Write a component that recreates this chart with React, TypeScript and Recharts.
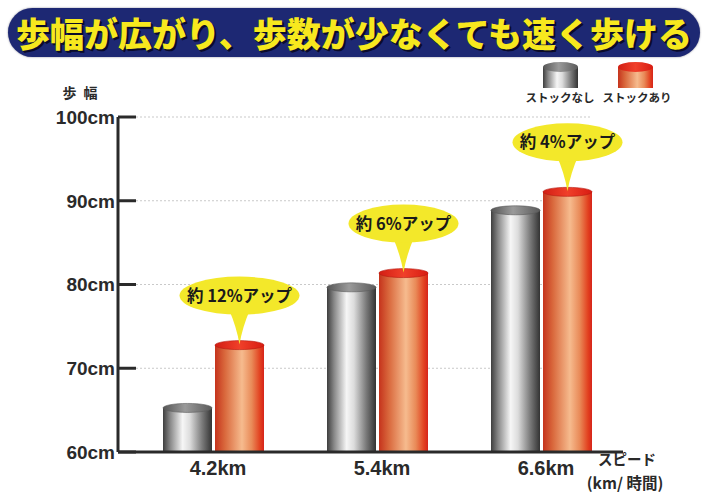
import React from 'react';
import { BarChart, Bar, XAxis, YAxis, CartesianGrid, Legend, LabelList } from 'recharts';

const title = '歩幅が広がり、歩数が少なくても速く歩ける';
const categories = ['4.2km', '5.4km', '6.6km'];
const withoutStock = [65.8, 80.2, 89.4];
const withStock = [73.3, 81.9, 91.6];
const callouts = ['約 12%アップ', '約 6%アップ', '約 4%アップ'];
const yTicks = [60, 70, 80, 90, 100];
const seriesNames = ['ストックなし', 'ストックあり'];
const yAxisTitle = '歩 幅';
const xAxisTitle1 = 'スピード';
const xAxisTitle2 = '(km/ 時間)';

const data = categories.map((c, i) => ({
  name: c,
  without: withoutStock[i],
  with: withStock[i],
  callout: callouts[i],
}));

const JP = '"Noto Sans CJK JP", "Noto Sans", sans-serif';
const LAT = '"Liberation Sans", Arial, Helvetica, sans-serif';
const INK = '#2a2a2a';

const Cylinder = (props: any) => {
  const { x, y, width, height, kind } = props;
  if (width == null || height == null || isNaN(y)) return null;
  const ry = 4.5;
  const cx = x + width / 2;
  return (
    <g>
      <rect x={x} y={y + ry} width={width} height={Math.max(0, height - ry)} fill={`url(#${kind}Body)`} />
      <ellipse
        cx={cx}
        cy={y + ry}
        rx={width / 2}
        ry={ry}
        fill={`url(#${kind}Top)`}
        stroke={kind === 'gray' ? '#5a5a5a' : '#b5170f'}
        strokeWidth={0.6}
      />
    </g>
  );
};

const Callout = (props: any) => {
  const vb = props.viewBox && props.viewBox.width != null ? props.viewBox : props;
  const { x, y, width } = vb;
  const value = String(props.value ?? '');
  if (x == null || y == null) return null;
  const cx = x + width / 2;
  const cy = y - 45;
  const rx = 20 + value.length * 5;
  const ry = 19;
  const tipY = y + 4;
  const fill = '#f3e82a';
  return (
    <g>
      <path
        d={`M${cx - 11},${cy + ry - 6} Q${cx - 3},${cy + ry + 12} ${cx},${tipY} Q${cx + 3},${cy + ry + 12} ${cx + 11},${cy + ry - 6} Z`}
        fill={fill}
      />
      <ellipse cx={cx} cy={cy} rx={rx} ry={ry} fill={fill} />
      <text
        x={cx}
        y={cy}
        dy="0.36em"
        textAnchor="middle"
        fontSize={16.5}
        fontWeight={700}
        fill="#1a1a1a"
        fontFamily={JP}
      >
        {value}
      </text>
    </g>
  );
};

const YTick = (props: any) => {
  const { x, y, payload } = props;
  return (
    <g>
      <line x1={x + 3} x2={x + 21} y1={y} y2={y} stroke={INK} strokeWidth={3} />
      <text x={x} y={y} dy="0.36em" textAnchor="end" fontSize={19} fontWeight={700} fill={INK} fontFamily={LAT}>
        {`${payload.value}cm`}
      </text>
    </g>
  );
};

const LegendCyl = ({ x, kind }: { x: number; kind: string }) => (
  <g>
    <rect x={x} y={7} width={35} height={21} fill={`url(#${kind}Body)`} />
    <ellipse cx={x + 17.5} cy={7} rx={17.5} ry={5} fill={`url(#${kind}Top)`} />
  </g>
);

const LegendContent = () => (
  <svg width={170} height={50} style={{ display: 'block' }}>
    <LegendCyl x={23} kind="gray" />
    <LegendCyl x={98} kind="orange" />
    <text x={40} y={38} dy="0.36em" textAnchor="middle" fontSize={11.5} fontWeight={700} fill={INK} fontFamily={JP}>
      {seriesNames[0]}
    </text>
    <text x={117} y={38} dy="0.36em" textAnchor="middle" fontSize={11.5} fontWeight={700} fill={INK} fontFamily={JP}>
      {seriesNames[1]}
    </text>
  </svg>
);

export default function App() {
  return (
    <div style={{ position: 'absolute', left: 0, top: 0, width: 707, height: 503, background: '#ffffff' }}>
      <BarChart
        width={707}
        height={503}
        data={data}
        margin={{ top: 117, right: 84, bottom: 21, left: 0 }}
        barSize={49}
        barGap={3}
      >
        <defs>
          <linearGradient id="grayBody" x1="0" y1="0" x2="1" y2="0">
            <stop offset="0%" stopColor="#3e3e3e" />
            <stop offset="15%" stopColor="#8a8a8a" />
            <stop offset="40%" stopColor="#f6f6f6" />
            <stop offset="55%" stopColor="#dcdcdc" />
            <stop offset="80%" stopColor="#7a7a7a" />
            <stop offset="100%" stopColor="#333333" />
          </linearGradient>
          <linearGradient id="grayTop" x1="0" y1="0" x2="1" y2="0">
            <stop offset="0%" stopColor="#555555" />
            <stop offset="45%" stopColor="#9a9a9a" />
            <stop offset="100%" stopColor="#5a5a5a" />
          </linearGradient>
          <linearGradient id="orangeBody" x1="0" y1="0" x2="1" y2="0">
            <stop offset="0%" stopColor="#c5331c" />
            <stop offset="20%" stopColor="#d9683c" />
            <stop offset="55%" stopColor="#f6bb8e" />
            <stop offset="75%" stopColor="#e98a58" />
            <stop offset="92%" stopColor="#e2401f" />
            <stop offset="100%" stopColor="#d6241a" />
          </linearGradient>
          <linearGradient id="orangeTop" x1="0" y1="0" x2="1" y2="0">
            <stop offset="0%" stopColor="#d21e14" />
            <stop offset="50%" stopColor="#f0402a" />
            <stop offset="100%" stopColor="#d81c12" />
          </linearGradient>
        </defs>
        <CartesianGrid vertical={false} stroke="#c9c9c9" strokeDasharray="2 2" x={136} width={454} />
        <XAxis
          dataKey="name"
          axisLine={{ stroke: INK, strokeWidth: 3 }}
          tickLine={false}
          tickSize={0}
          tickMargin={9}
          height={30}
          padding={{ left: 13, right: 0 }}
          tick={{ fontSize: 20, fontWeight: 700, fill: INK, fontFamily: LAT, dx: 5 }}
          interval={0}
        />
        <YAxis
          width={118}
          domain={[60, 100]}
          ticks={yTicks}
          allowDataOverflow
          axisLine={{ stroke: INK, strokeWidth: 3 }}
          tickLine={false}
          tickSize={0}
          tickMargin={3}
          tick={<YTick />}
          interval={0}
        />
        <Legend
          layout="horizontal"
          verticalAlign="middle"
          align="center"
          content={<LegendContent />}
          wrapperStyle={{ top: 60, left: 520, width: 170, height: 50 }}
        />
        <Bar dataKey="without" name={seriesNames[0]} isAnimationActive={false} shape={(p: any) => <Cylinder {...p} kind="gray" />} />
        <Bar dataKey="with" name={seriesNames[1]} isAnimationActive={false} shape={(p: any) => <Cylinder {...p} kind="orange" />}>
          <LabelList dataKey="callout" content={(p: any) => <Callout {...p} />} />
        </Bar>
        <text x={81} y={93} dy="0.36em" textAnchor="middle" fontSize={14} fontWeight={700} fill={INK} fontFamily={JP} letterSpacing={2}>
          {yAxisTitle}
        </text>
        <text x={627} y={460} dy="0.36em" textAnchor="middle" fontSize={14.5} fontWeight={700} fill={INK} fontFamily={JP}>
          {xAxisTitle1}
        </text>
        <text x={625} y={483} dy="0.36em" textAnchor="middle" fontSize={15.5} fontWeight={700} fill={INK} fontFamily={JP}>
          {xAxisTitle2}
        </text>
      </BarChart>
      <div
        style={{
          position: 'absolute',
          left: 8,
          top: 8,
          width: 692,
          height: 49,
          borderRadius: 25,
          background: '#1d2873',
          color: '#f7e81e',
          fontFamily: JP,
          fontWeight: 900,
          fontSize: 34,
          lineHeight: '49px',
          textAlign: 'center',
          whiteSpace: 'nowrap',
          textShadow: '2px 2px 0 #0b0b2a, 1px 1px 0 #0b0b2a',
          boxShadow: '0 0 2px rgba(0,0,40,0.5)',
        }}
      >
        {title}
      </div>
    </div>
  );
}
